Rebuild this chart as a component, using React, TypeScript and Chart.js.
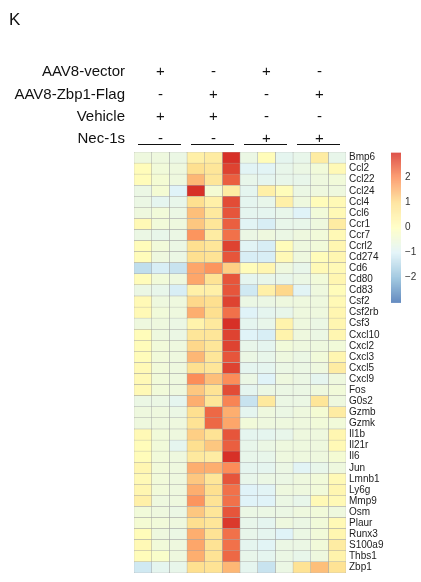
import React, { useEffect, useRef } from "react";
import { Chart, registerables } from "chart.js";

Chart.register(...registerables);

const genes = [
  "Bmp6", "Ccl2", "Ccl22", "Ccl24", "Ccl4", "Ccl6", "Ccr1", "Ccr7", "Ccrl2", "Cd274",
  "Cd6", "Cd80", "Cd83", "Csf2", "Csf2rb", "Csf3", "Cxcl10", "Cxcl2", "Cxcl3", "Cxcl5",
  "Cxcl9", "Fos", "G0s2", "Gzmb", "Gzmk", "Il1b", "Il21r", "Il6", "Jun", "Lmnb1",
  "Ly6g", "Mmp9", "Osm", "Plaur", "Runx3", "S100a9", "Thbs1", "Zbp1",
];

// Group 1: AAV8-vector + Vehicle (3 replicates per gene)
const vectorVehicle = [
  [-0.55, -0.55, -0.65], [0.1, -0.45, -0.55], [0.1, -0.35, -0.55], [-0.65, -0.35, -1.0], [-0.65, -0.85, -0.75],
  [-0.55, -0.45, -0.65], [0.2, -0.45, -0.55], [-0.65, -0.75, -0.65], [0.1, -0.45, -0.65], [0.1, -0.55, -0.65],
  [-1.4, -1.1, -1.3], [0.1, -0.45, -0.55], [-0.65, -0.75, -1.1], [0.2, -0.55, -0.55], [0.2, -0.45, -0.55],
  [-0.55, -0.55, -0.65], [0.1, -0.55, -0.65], [0.1, -0.45, -0.55], [0.1, -0.45, -0.55], [0.2, -0.45, -0.55],
  [0.2, -0.45, -0.55], [0.2, -0.45, -0.55], [-0.65, -0.65, -0.85], [-0.55, -0.55, -0.65], [-0.55, -0.55, -0.55],
  [0.2, -0.45, -0.55], [0.1, -0.45, -0.85], [0.1, -0.45, -0.55], [0.3, -0.45, -0.55], [0.2, -0.45, -0.55],
  [0.3, -0.45, -0.55], [0.5, -0.55, -0.55], [-0.45, -0.55, -0.65], [-0.35, -0.45, -0.55], [0.1, -0.55, -0.65],
  [0.2, -0.45, -0.55], [0.1, -0.2, -0.55], [-1.2, -0.85, -0.75],
];

// Group 2: AAV8-Zbp1-Flag + Vehicle
const zbp1Vehicle = [
  [0.5, 0.6, 3.0], [1.0, 0.8, 2.8], [1.5, 0.8, 2.5], [3.0, -0.35, 0.6], [1.0, 0.5, 2.7],
  [1.4, 0.7, 2.6], [1.3, 0.8, 2.5], [1.9, 0.6, 2.3], [1.0, 0.8, 2.8], [1.0, 0.9, 2.6],
  [1.7, 1.9, 1.2], [1.7, 0.9, 2.6], [0.5, 0.5, 2.6], [1.1, 1.0, 2.8], [1.6, 1.0, 2.3],
  [0.4, 0.7, 3.0], [0.8, 0.8, 2.8], [1.1, 0.8, 2.8], [1.5, 0.8, 2.6], [1.0, 0.8, 2.8],
  [2.0, 1.4, 2.0], [1.3, 0.9, 2.7], [1.6, 0.8, 2.1], [1.0, 2.4, 1.6], [0.9, 2.4, 1.7],
  [1.2, 0.9, 2.6], [1.0, 1.3, 2.5], [0.7, 0.6, 3.0], [1.6, 1.6, 2.0], [1.3, 0.8, 2.6],
  [1.6, 1.0, 2.3], [1.9, 0.9, 2.3], [1.3, 0.8, 2.6], [1.0, 0.8, 2.9], [1.6, 0.9, 2.3],
  [1.7, 0.9, 2.3], [1.6, 0.9, 2.4], [1.0, 0.9, 1.5],
];

// Group 3: AAV8-vector + Nec-1s
const vectorNec = [
  [-0.65, 0.1, -0.85], [-0.95, -0.95, -0.75], [-0.75, -0.85, -0.75], [-0.85, 0.5, 0.1], [-0.85, -0.75, 0.5],
  [-0.85, -0.85, -0.75], [-0.95, -1.1, -0.75], [-0.65, -0.55, -0.65], [-0.95, -1.1, 0.1], [-1.1, -1.1, 0.2],
  [0.1, 0.3, -0.55], [-0.85, -0.75, -0.75], [-1.2, 0.5, 1.1], [-0.65, -0.65, -0.55], [-1.0, -0.85, -0.75],
  [-0.85, -0.75, 0.4], [-1.0, -1.1, 0.4], [-0.75, -0.85, -0.45], [-0.65, -0.75, -0.55], [-0.85, -0.85, -0.65],
  [-0.65, -1.0, -0.55], [-0.85, -0.65, -0.65], [-1.3, 0.7, -0.65], [-0.85, -0.55, -0.65], [-0.45, -0.55, -0.55],
  [-0.85, -0.85, -0.75], [-0.75, -0.65, -0.55], [-0.75, -0.75, -0.55], [-0.85, -0.85, -0.65], [-0.75, -0.65, -0.65],
  [-1.0, -0.95, -0.55], [-1.0, -1.0, -0.65], [-0.65, -0.65, -0.65], [-0.75, -0.85, -0.55], [-0.75, -0.85, -1.0],
  [-0.85, -0.95, -0.65], [-0.75, -0.85, -0.65], [-0.85, -1.3, -0.65],
];

// Group 4: AAV8-Zbp1-Flag + Nec-1s
const zbp1Nec = [
  [-0.75, 0.6, -0.75], [-0.65, -0.45, 0.2], [-0.75, -0.55, -0.45], [-0.65, -0.55, -0.55], [-0.55, 0.1, 0.2],
  [-1.0, -0.45, 0.2], [-0.75, -0.55, 0.6], [-0.55, -0.45, 0.2], [-0.55, -0.45, 0.3], [-0.55, 0.1, 0.3],
  [-0.75, 0.2, 0.2], [-0.65, -0.45, 0.3], [-0.95, -0.55, 0.1], [-0.55, -0.55, 0.2], [-0.55, -0.55, 0.3],
  [-0.55, -0.65, 0.3], [-0.55, -0.65, 0.3], [-0.55, -0.55, -0.45], [-0.65, -0.45, 0.3], [-0.65, -0.55, 0.6],
  [-0.65, -0.85, -0.55], [-0.65, -0.55, -0.45], [-0.65, 0.8, -0.55], [-0.55, -0.35, 0.6], [-0.55, -0.45, -0.45],
  [-0.55, -0.55, 0.3], [-0.55, -0.55, 0.2], [-0.55, -0.55, -0.35], [-0.95, -0.75, -0.55], [-0.55, -0.45, 0.2],
  [-0.55, -0.45, 0.3], [-0.75, 0.2, 0.2], [-0.55, -0.45, -0.55], [-0.65, -0.45, 0.2], [-0.65, -0.45, 0.3],
  [-0.65, -0.45, 0.6], [-0.75, -0.55, 0.4], [0.9, 1.4, 0.9],
];

const groups = [vectorVehicle, zbp1Vehicle, vectorNec, zbp1Nec];

const conditions = ["AAV8-vector", "AAV8-Zbp1-Flag", "Vehicle", "Nec-1s"];
const conditionSigns = [
  ["+", "-", "+", "-"],
  ["-", "+", "-", "+"],
  ["+", "+", "-", "-"],
  ["-", "-", "+", "+"],
];

const legendTicks = [2, 1, 0, -1, -2];
const colorMin = -3;
const colorMax = 3;
const palette = ["#4575B4", "#91BFDB", "#E0F3F8", "#FFFFBF", "#FEE090", "#FC8D59", "#D73027"];

const FONT = "'Liberation Sans', Arial, Helvetica, sans-serif";

function hexToRgb(h: string) {
  return [parseInt(h.slice(1, 3), 16), parseInt(h.slice(3, 5), 16), parseInt(h.slice(5, 7), 16)];
}
const paletteRgb = palette.map(hexToRgb);

function colorFor(v: number) {
  const t = Math.max(0, Math.min(1, (v - colorMin) / (colorMax - colorMin)));
  const pos = t * (paletteRgb.length - 1);
  const i = Math.min(paletteRgb.length - 2, Math.floor(pos));
  const f = pos - i;
  const a = paletteRgb[i];
  const b = paletteRgb[i + 1];
  const c = a.map((x, k) => Math.round(x + (b[k] - x) * f));
  return `rgb(${c[0]},${c[1]},${c[2]})`;
}

const nSamples = groups.length * 3;
function valueAt(g: number, col: number) {
  return groups[Math.floor(col / 3)][g][col % 3];
}

const colorbarPlugin = {
  id: "colorbar",
  afterDraw(chart: any) {
    const { ctx, chartArea } = chart;
    const x0 = chartArea.right + 45;
    const y0 = chartArea.top + 0.7;
    const h = 150;
    const w = 10;
    ctx.save();
    for (let i = 0; i < h; i++) {
      const v = colorMax - ((i + 0.5) / h) * (colorMax - colorMin);
      ctx.fillStyle = colorFor(v);
      ctx.fillRect(x0, y0 + i, w, 1.05);
    }
    ctx.fillStyle = "#333";
    ctx.font = `10px ${FONT}`;
    ctx.textAlign = "left";
    ctx.textBaseline = "middle";
    legendTicks.forEach((t) => {
      const y = y0 + ((colorMax - t) / (colorMax - colorMin)) * h;
      const label = t < 0 ? "\u2212" + Math.abs(t) : String(t);
      ctx.fillText(label, x0 + w + 4, y);
    });
    ctx.restore();
  },
};

const heatLeft = 134;
const heatRight = 346;
const colW = (heatRight - heatLeft) / nSamples;

export default function App() {
  const ref = useRef<HTMLCanvasElement>(null);

  useEffect(() => {
    if (!ref.current) return;
    const cols = Array.from({ length: nSamples }, (_, c) => c);
    const chart = new Chart(ref.current, {
      type: "bar",
      data: {
        labels: genes,
        datasets: cols.map((c) => ({
          data: genes.map(() => [c, c + 1]),
          backgroundColor: genes.map((_, g) => colorFor(valueAt(g, c))),
          borderColor: "#a4a4a4",
          borderWidth: 0.5,
          borderSkipped: false,
          grouped: false,
          barPercentage: 1,
          categoryPercentage: 1,
        })) as any,
      },
      options: {
        indexAxis: "y",
        responsive: false,
        animation: false,
        layout: { padding: { left: heatLeft, top: 152, bottom: 1, right: 0 } },
        scales: {
          x: { type: "linear", min: 0, max: nSamples, display: false },
          y: {
            type: "category",
            position: "right",
            grid: { display: false, drawTicks: false },
            border: { display: false },
            ticks: { autoSkip: false, padding: 3, color: "#222", font: { family: FONT, size: 10 } },
            afterFit: (s: any) => {
              s.width = 421 - heatRight;
            },
          },
        },
        plugins: { legend: { display: false }, tooltip: { enabled: false } },
      } as any,
      plugins: [colorbarPlugin],
    });
    return () => chart.destroy();
  }, []);

  const groupCenter = (g: number) => heatLeft + (g * 3 + 1.5) * colW;
  const baselines = [76, 98.3, 120.5, 142.5];

  return (
    <div style={{ position: "fixed", left: 0, top: 0, width: 421, height: 582, background: "#fff", fontFamily: FONT }}>
      <canvas ref={ref} width={421} height={582} style={{ position: "absolute", left: 0, top: 0 }} />
      <div style={{ position: "absolute", left: 9, top: 10.6, fontSize: 17, lineHeight: "17px", color: "#111" }}>K</div>
      {conditions.map((c, r) => (
        <div
          key={c}
          style={{
            position: "absolute",
            right: 421 - 125,
            top: baselines[r] - 12.7,
            fontSize: 15,
            lineHeight: "15px",
            color: "#111",
            whiteSpace: "nowrap",
          }}
        >
          {c}
        </div>
      ))}
      {conditionSigns.map((row, r) =>
        row.map((s, g) => (
          <div
            key={`${r}-${g}`}
            style={{
              position: "absolute",
              left: groupCenter(g) - 10,
              width: 20,
              textAlign: "center",
              top: baselines[r] - 12.7,
              fontSize: 15,
              lineHeight: "15px",
              color: "#111",
            }}
          >
            {s}
          </div>
        ))
      )}
      {[0, 1, 2, 3].map((g) => (
        <div
          key={`u${g}`}
          style={{
            position: "absolute",
            left: groupCenter(g) - 23,
            width: 43,
            top: 144,
            height: 1,
            background: "#111",
          }}
        />
      ))}
    </div>
  );
}
